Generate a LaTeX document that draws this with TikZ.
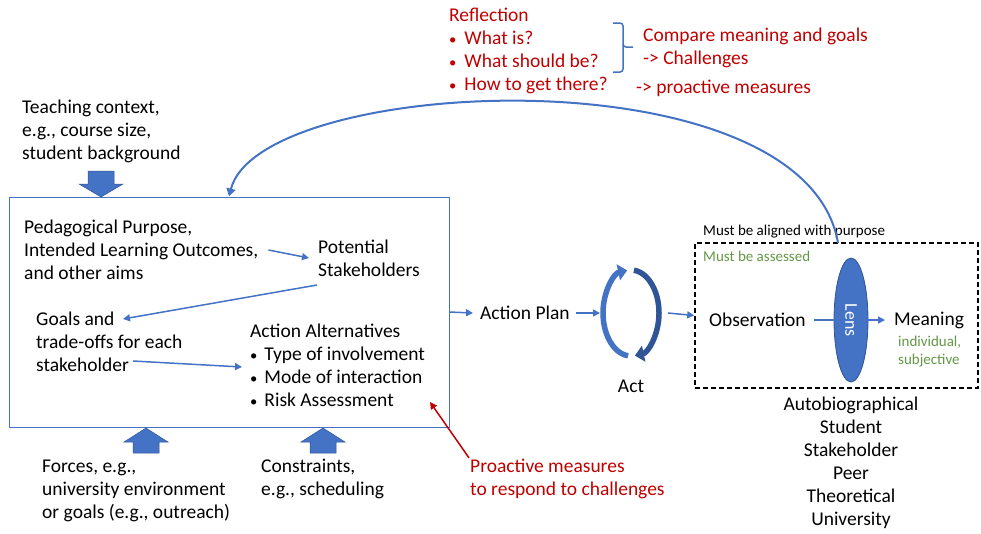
\documentclass[tikz,border=0pt]{standalone}
\usepackage{fontspec}
\setmainfont{Carlito}
\usetikzlibrary{arrows.meta,shapes.geometric}
\definecolor{pptblue}{RGB}{68,114,196}
\definecolor{pptdark}{RGB}{47,85,151}
\definecolor{pptred}{RGB}{192,0,0}
\definecolor{pptgreen}{RGB}{100,150,70}
\newcommand{\smallbullet}{\scalebox{0.75}{\textbullet}}

\begin{document}
\begin{tikzpicture}[x=1pt,y=-1pt,
    txt/.style={font=\fontsize{19.5}{23}\selectfont, inner sep=0pt, align=left, anchor=west},
    small/.style={font=\fontsize{15}{18}\selectfont, inner sep=0pt, align=left, anchor=west},
    flow/.style={pptblue, line width=1.5pt, -{Triangle[length=7pt,width=7pt]}},
    blockarr/.style={fill=pptblue, draw=pptdark, line width=0.5pt},
    cyclearr/.style={line width=5.5pt, -{Triangle[length=9pt,width=16pt]}},
]
    \useasboundingbox (0,0) rectangle (981,533);

    % planning box
    \node[draw=pptblue, line width=1pt, minimum width=440pt, minimum height=230pt, inner sep=0pt] (planbox) at (229,312) {};
    \node[txt] (ped) at (24,250) {Pedagogical Purpose,\\Intended Learning Outcomes,\\and other aims};
    \node[txt] (stake) at (318,258) {Potential\\Stakeholders};
    \node[txt] (goals) at (36,342) {Goals and\\trade-offs for each\\stakeholder};
    \node[txt] (alt) at (250,367) {\def\arraystretch{1}\begin{tabular}{@{}l@{\hspace{7pt}}l@{}}
        \multicolumn{2}{@{}l}{Action Alternatives}\\
        \smallbullet & Type of involvement\\
        \smallbullet & Mode of interaction\\
        \smallbullet & Risk Assessment
    \end{tabular}};
    \draw[flow] ([xshift=10pt]ped.east) -- ([xshift=-9pt]stake.west);
    \draw[flow] ([shift={(-1,27)}]stake.west) -- ([shift={(87,-23)}]goals.west);
    \draw[flow] ([shift={(97,19)}]goals.west) -- ([xshift=-8pt]alt.west);

    % context above and below
    \node[txt] (teach) at (22,131) {Teaching context,\\e.g., course size,\\student background};
    \draw[blockarr] (88,171) -- (114,171) -- (114,184) -- (123,184) -- (101,197) -- (79,184) -- (88,184) -- cycle;
    \node[txt] (forces) at (42,491) {Forces, e.g.,\\university environment\\or goals (e.g., outreach)};
    \node[txt] (constr) at (261,479) {Constraints,\\e.g., scheduling};
    \draw[blockarr] (133,453) -- (159,453) -- (159,442) -- (168,442) -- (146,428) -- (124,442) -- (133,442) -- cycle;
    \draw[blockarr] (310,453) -- (336,453) -- (336,442) -- (345,442) -- (323,428) -- (301,442) -- (310,442) -- cycle;

    \node[txt, pptred] (pro) at (470,479) {Proactive measures\\to respond to challenges};
    \coordinate (riskend) at (430,402);
    \draw[pptred, line width=1.5pt, -{Triangle[length=7pt,width=7pt]}] ([shift={(-1,-1)}]pro.north west) -- (riskend);

    % action plan and act
    \node[txt] (plan) at (480,313) {Action Plan};
    \draw[flow] (planbox.east) -- ([xshift=-7pt]plan.west);
    \coordinate (act) at (631,313);
    \draw[cyclearr, pptblue] (act) ++(96:28 and 43) arc[start angle=96, end angle=262, x radius=28, y radius=43];
    \draw[cyclearr, pptdark] (act) ++(-84:28 and 43) arc[start angle=-84, end angle=82, x radius=28, y radius=43];
    \node[txt, anchor=center] (actlabel) at (631,386) {Act};
    \draw[flow] ([xshift=6pt]plan.east) -- ([xshift=-31pt]act);

    % observation and meaning
    \node[draw, dashed, line width=1.6pt, dash pattern=on 5pt off 3pt, minimum width=283pt, minimum height=145pt, inner sep=0pt] (evalbox) at (836.5,315.5) {};
    \draw[flow] ([xshift=37pt]act) -- (evalbox.west);
    \node[small] (aligned) at (703,232) {Must be aligned with purpose};
    \node[small, pptgreen] (assessed) at (703,256) {Must be assessed};
    \node[txt] (obs) at (709,320) {Observation};
    \node[ellipse, fill=pptblue, draw=pptdark, line width=0.8pt, minimum width=124pt, minimum height=34pt, inner sep=0pt,
          rotate=-90, text=white, font=\fontsize{18}{20}\selectfont] (lens) at (851,320) {Lens};
    \node[txt] (meaning) at (894,320) {Meaning};
    \node[small, pptgreen] (subj) at (898,352) {individual,\\subjective};
    \draw[pptblue, line width=1.5pt] ([xshift=8pt]obs.east) -- (lens.north);
    \draw[flow] (lens.south) -- ([xshift=-9pt]meaning.west);
    \node[txt, align=center, anchor=center] (lenslist) at (851,463) {Autobiographical\\Student\\Stakeholder\\Peer\\Theoretical\\University};

    % reflection loop
    \coordinate (fbstart) at (838,243);
    \draw[pptblue, line width=2pt, -{Triangle[length=8pt,width=9pt]}] (fbstart) .. controls (805,50) and (260,75) .. (planbox.north);
    \node[txt, pptred] (refl) at (449,51) {\def\arraystretch{1}\begin{tabular}{@{}l@{\hspace{8pt}}l@{}}
        \multicolumn{2}{@{}l}{Reflection}\\
        \smallbullet & What is?\\
        \smallbullet & What should be?\\
        \smallbullet & How to get there?
    \end{tabular}};
    \draw[pptblue, line width=1.5pt, rounded corners=3pt] (613,23) -- (623,23) -- (623,47) -- (633,47);
    \draw[pptblue, line width=1.5pt, rounded corners=3pt] (623,44) -- (623,72) -- (613,72);
    \node[txt, pptred] (compare) at (643,48) {Compare meaning and goals\\-> Challenges};
    \node[txt, pptred] (measures) at (636,88) {-> proactive measures};
\end{tikzpicture}
\end{document}
